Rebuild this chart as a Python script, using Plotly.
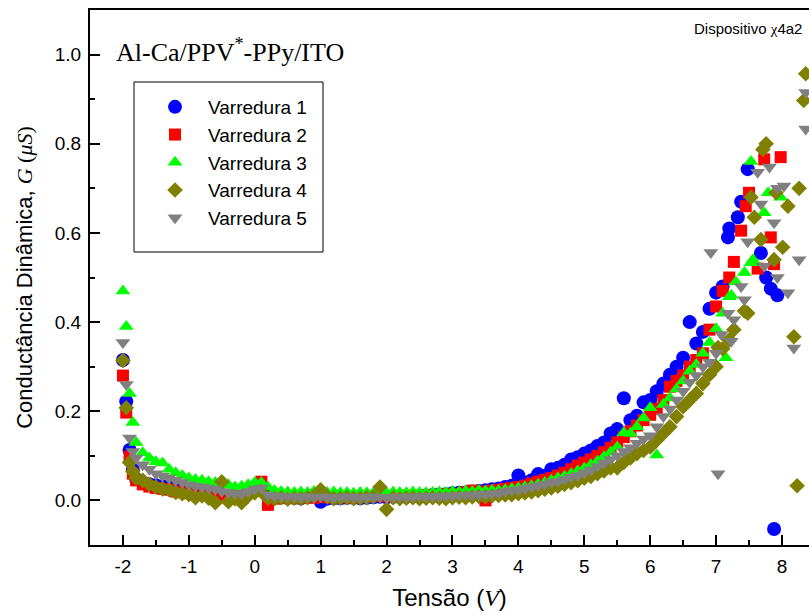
import plotly.graph_objects as go

# ---------------- data ----------------
V_MAIN = [-2.0, -1.95, -1.9, -1.85, -1.8, -1.7, -1.6, -1.5, -1.4, -1.3,
          -1.2, -1.1, -1.0, -0.9, -0.8, -0.7, -0.6, -0.5, -0.4, -0.3,
          -0.2, -0.1, 0.0, 0.1, 0.2, 0.3, 0.4, 0.5, 0.6, 0.7,
          0.8, 0.9, 1.0, 1.1, 1.2, 1.3, 1.4, 1.5, 1.6, 1.7,
          1.8, 1.9, 2.0, 2.1, 2.2, 2.3, 2.4, 2.5, 2.6, 2.7,
          2.8, 2.9, 3.0, 3.1, 3.2, 3.3, 3.4, 3.5, 3.6, 3.7,
          3.8, 3.9, 4.0, 4.1, 4.2, 4.3, 4.4, 4.5, 4.6, 4.7,
          4.8, 4.9, 5.0, 5.1, 5.2, 5.3, 5.4, 5.5, 5.6, 5.7,
          5.8, 5.9, 6.0, 6.1, 6.2, 6.3, 6.4, 6.5, 6.6, 6.7,
          6.8, 6.9, 7.0]

G1_MAIN = [0.315, 0.222, 0.113, 0.069, 0.048, 0.040, 0.036, 0.034, 0.032, 0.030,
           0.027, 0.025, 0.022, 0.020, 0.018, 0.016, 0.014, 0.012, 0.008, 0.006,
           0.010, 0.016, 0.022, 0.026, 0.012, 0.008, 0.007, 0.006, 0.006, 0.005,
           0.008, 0.012, -0.003, 0.004, 0.005, 0.005, 0.006, 0.006, 0.005, 0.006,
           0.007, 0.008, 0.007, 0.008, 0.009, 0.008, 0.010, 0.010, 0.011, 0.012,
           0.013, 0.014, 0.016, 0.017, 0.018, 0.020, 0.021, 0.023, 0.025, 0.027,
           0.030, 0.033, 0.056, 0.040, 0.045, 0.059, 0.055, 0.070, 0.073, 0.080,
           0.092, 0.097, 0.105, 0.112, 0.122, 0.130, 0.150, 0.160, 0.229, 0.180,
           0.190, 0.220, 0.225, 0.245, 0.262, 0.282, 0.300, 0.320, 0.400, 0.352,
           0.378, 0.430, 0.466]
V1_TAIL = [7.1, 7.18, 7.2, 7.33, 7.38, 7.48, 7.68, 7.76, 7.83, 7.93, 7.88]
G1_TAIL = [0.480, 0.590, 0.610, 0.635, 0.670, 0.743, 0.555, 0.500, 0.475, 0.460, -0.064]

G2_MAIN = [0.280, 0.197, 0.098, 0.060, 0.045, 0.036, 0.031, 0.028, 0.026, 0.024,
           0.020, 0.018, 0.016, 0.014, 0.012, 0.015, 0.012, 0.010, 0.009, 0.010,
           0.014, 0.020, 0.026, 0.042, -0.010, 0.004, 0.005, 0.006, 0.005, 0.006,
           0.007, 0.006, 0.008, 0.007, 0.006, 0.008, 0.007, 0.006, 0.008, 0.009,
           0.010, 0.012, 0.009, 0.008, 0.010, 0.011, 0.009, 0.010, 0.012, 0.011,
           0.012, 0.014, 0.013, 0.015, 0.018, 0.022, 0.020, 0.000, 0.022, 0.024,
           0.026, 0.028, 0.030, 0.033, 0.038, 0.042, 0.046, 0.050, 0.056, 0.062,
           0.070, 0.078, 0.085, 0.092, 0.100, 0.108, 0.118, 0.130, 0.142, 0.155,
           0.168, 0.180, 0.192, 0.205, 0.225, 0.255, 0.268, 0.280, 0.300, 0.315,
           0.330, 0.383, 0.435]
V2_TAIL = [7.1, 7.2, 7.27, 7.38, 7.45, 7.5, 7.63, 7.73, 7.83, 7.88, 7.98]
G2_TAIL = [0.470, 0.500, 0.535, 0.605, 0.660, 0.690, 0.520, 0.765, 0.590, 0.530, 0.770]

G3_MAIN = [0.470, 0.390, 0.240, 0.175, 0.130, 0.107, 0.095, 0.087, 0.084, 0.070,
           0.062, 0.056, 0.050, 0.047, 0.045, 0.042, 0.040, 0.038, 0.035, 0.030,
           0.032, 0.035, 0.040, 0.040, 0.030, 0.022, 0.020, 0.019, 0.018, 0.019,
           0.018, 0.020, 0.017, 0.018, 0.019, 0.017, 0.018, 0.016, 0.018, 0.017,
           0.016, 0.018, 0.017, 0.019, 0.018, 0.017, 0.019, 0.018, 0.017, 0.018,
           0.019, 0.018, 0.020, 0.019, 0.021, 0.020, 0.022, 0.021, 0.023, 0.022,
           0.024, 0.026, 0.028, 0.030, 0.033, 0.036, 0.040, 0.045, 0.050, 0.054,
           0.060, 0.066, 0.072, 0.080, 0.088, 0.098, 0.108, 0.120, 0.152, 0.150,
           0.165, 0.185, 0.208, 0.102, 0.215, 0.230, 0.250, 0.268, 0.290, 0.305,
           0.330, 0.354, 0.385]
V3_TAIL = [7.1, 7.15, 7.2, 7.23, 7.3, 7.43, 7.53, 7.56, 7.73, 7.79, 7.98, 7.53]
G3_TAIL = [0.420, 0.320, 0.457, 0.460, 0.490, 0.511, 0.533, 0.540, 0.645, 0.690, 0.680, 0.760]

G4_MAIN = [0.314, 0.208, 0.085, 0.065, 0.050, 0.045, 0.036, 0.030, 0.026, 0.024,
           0.018, 0.015, 0.013, 0.006, 0.010, 0.005, -0.005, 0.042, -0.003, 0.004,
           -0.005, 0.010, 0.017, 0.020, 0.005, 0.004, 0.006, 0.003, 0.005, 0.004,
           0.006, 0.010, 0.024, 0.008, 0.004, 0.005, 0.006, 0.004, 0.005, 0.006,
           0.008, 0.030, -0.020, 0.006, 0.004, 0.005, 0.006, 0.004, 0.005, 0.006,
           0.005, 0.004, 0.006, 0.007, 0.006, 0.008, 0.009, 0.008, 0.010, 0.011,
           0.012, 0.013, 0.015, 0.017, 0.019, 0.022, 0.025, 0.028, 0.032, 0.036,
           0.040, 0.044, 0.050, 0.054, 0.060, 0.066, 0.073, 0.073, 0.085, 0.095,
           0.105, 0.112, 0.120, 0.135, 0.150, 0.165, 0.188, 0.210, 0.225, 0.240,
           0.262, 0.282, 0.300]
V4_TAIL = [7.03, 7.1, 7.2, 7.27, 7.43, 7.48, 7.53, 7.58, 7.68, 7.71,
           7.76, 7.88, 7.91, 8.01, 8.09, 8.18, 8.23, 8.26, 8.33, 8.36]
G4_TAIL = [0.343, 0.340, 0.360, 0.383, 0.425, 0.420, 0.680, 0.635, 0.585, 0.787,
           0.800, 0.540, 0.690, 0.568, 0.660, 0.367, 0.033, 0.700, 0.897, 0.957]

G5_MAIN = [0.354, 0.260, 0.140, 0.110, 0.095, 0.080, 0.070, 0.060, 0.055, 0.050,
           0.045, 0.040, 0.035, 0.032, 0.030, 0.028, 0.025, 0.020, 0.018, 0.015,
           0.015, 0.020, 0.025, 0.028, 0.012, 0.010, 0.008, 0.009, 0.008, 0.007,
           0.008, 0.007, 0.008, 0.007, 0.006, 0.007, 0.008, 0.007, 0.006, 0.007,
           0.008, 0.007, 0.006, 0.007, 0.008, 0.007, 0.008, 0.009, 0.008, 0.009,
           0.009, 0.010, 0.010, 0.011, 0.012, 0.012, 0.013, 0.014, 0.015, 0.016,
           0.020, 0.022, 0.024, 0.027, 0.030, 0.033, 0.036, 0.040, 0.043, 0.047,
           0.052, 0.056, 0.062, 0.068, 0.076, 0.084, 0.092, 0.100, 0.110, 0.118,
           0.128, 0.138, 0.145, 0.165, 0.188, 0.205, 0.225, 0.245, 0.265, 0.280,
           0.300, 0.310, 0.330]
V5_TAIL = [6.92, 7.03, 7.08, 7.18, 7.23, 7.27, 7.38, 7.43, 7.48, 7.63, 7.68,
           7.73, 7.81, 7.88, 7.93, 7.93, 8.03, 8.09, 8.18, 8.26, 8.36, 8.36]
G5_TAIL = [0.556, 0.060, 0.372, 0.420, 0.357, 0.405, 0.480, 0.450, 0.580, 0.736, 0.665,
           0.525, 0.748, 0.623, 0.500, 0.700, 0.705, 0.466, 0.342, 0.540, 0.915, 0.833]

SERIES_NAMES = ["Varredura 1", "Varredura 2", "Varredura 3", "Varredura 4", "Varredura 5"]
X_TICKS = [-2, -1, 0, 1, 2, 3, 4, 5, 6, 7, 8]
X_TICK_LABELS = ["-2", "-1", "0", "1", "2", "3", "4", "5", "6", "7", "8"]
Y_TICKS = [0.0, 0.2, 0.4, 0.6, 0.8, 1.0]
Y_TICK_LABELS = ["0.0", "0.2", "0.4", "0.6", "0.8", "1.0"]

# ---------------- style ----------------
SANS = "Liberation Sans, Arial, sans-serif"
SERIF = "Liberation Serif, Times New Roman, serif"
COLORS = ["#0000FF", "#FF0000", "#00FF00", "#808000", "#808080"]
SYMBOLS = ["circle", "square", "triangle-up", "diamond", "triangle-down"]
SIZES = [14, 12, 13, 12, 13]

xs = [V_MAIN + V1_TAIL, V_MAIN + V2_TAIL, V_MAIN + V3_TAIL, V_MAIN + V4_TAIL, V_MAIN + V5_TAIL]
ys = [G1_MAIN + G1_TAIL, G2_MAIN + G2_TAIL, G3_MAIN + G3_TAIL, G4_MAIN + G4_TAIL, G5_MAIN + G5_TAIL]

fig = go.Figure()
for i in range(5):
    fig.add_trace(go.Scatter(
        x=xs[i], y=ys[i], mode="markers", name=SERIES_NAMES[i],
        legendgroup=f"g{i}",
        marker=dict(symbol=SYMBOLS[i], size=SIZES[i], color=COLORS[i],
                    line=dict(width=0)),
    ))

W, H = 809, 615
ML, MR, MT, MB = 90, 0, 10, 70
PW, PH = W - ML - MR, H - MT - MB


def px_x(px):
    return (px - ML) / PW


def px_y(py):
    return (H - MB - py) / PH


fig.update_layout(
    width=W, height=H,
    margin=dict(l=ML, r=MR, t=MT, b=MB, pad=0),
    paper_bgcolor="white", plot_bgcolor="white",
    font=dict(family=SANS, color="black", size=19),
    showlegend=True,
    legend=dict(
        x=px_x(142), y=px_y(88), xanchor="left", yanchor="top",
        bgcolor="rgba(0,0,0,0)", borderwidth=0,
        font=dict(family=SANS, size=19, color="black"),
        tracegroupgap=0, itemwidth=56,
    ),
    xaxis=dict(
        range=[-2.5, 8.41], showgrid=False, zeroline=False,
        showline=True, linecolor="black", linewidth=2, mirror=True,
        ticks="inside", ticklen=10, tickwidth=1.5, tickcolor="black",
        tickmode="array", tickvals=X_TICKS, ticktext=X_TICK_LABELS,
        tickfont=dict(family=SANS, size=19),
        ticklabelstandoff=3,
        minor=dict(ticks="inside", ticklen=5, tickwidth=1.5, tickcolor="black",
                   dtick=0.5, tick0=0, showgrid=False),
        title=dict(text='Tensão (<span style="font-family:Liberation Serif"><i>V</i></span>)',
                   font=dict(family=SANS, size=24), standoff=13),
    ),
    yaxis=dict(
        range=[-0.1, 1.1], showgrid=False, zeroline=False,
        showline=True, linecolor="black", linewidth=2, mirror=False,
        ticks="inside", ticklen=10, tickwidth=1.5, tickcolor="black",
        tickmode="array", tickvals=Y_TICKS, ticktext=Y_TICK_LABELS,
        tickfont=dict(family=SANS, size=19),
        ticklabelstandoff=3,
        minor=dict(ticks="inside", ticklen=5, tickwidth=1.5, tickcolor="black",
                   dtick=0.1, tick0=0, showgrid=False),
        title=dict(text='Conductância Dinâmica, <span style="font-family:Liberation Serif"><i>G</i> (<i>μS</i>)</span>',
                   font=dict(family=SANS, size=22), standoff=16),
    ),
    shapes=[dict(type="rect", xref="paper", yref="paper",
                 x0=px_x(134), x1=px_x(323), y0=px_y(252), y1=px_y(82),
                 line=dict(color="black", width=1), fillcolor="rgba(0,0,0,0)",
                 layer="above")],
    annotations=[
        dict(text="Al-Ca/PPV<sup>*</sup>-PPy/ITO", xref="paper", yref="paper",
             x=px_x(114), y=px_y(50), xanchor="left", yanchor="middle",
             showarrow=False, font=dict(family=SERIF, size=26, color="black")),
        dict(text='Dispositivo <span style="font-family:Liberation Serif">χ</span>4a2',
             xref="paper", yref="paper",
             x=px_x(804), y=px_y(29), xanchor="right", yanchor="middle",
             showarrow=False, font=dict(family=SANS, size=15, color="black")),
    ],
)

fig.write_html("out.html",
               config={"displayModeBar": False},
               post_script="document.body.style.margin='0px';document.body.style.padding='0px';")
